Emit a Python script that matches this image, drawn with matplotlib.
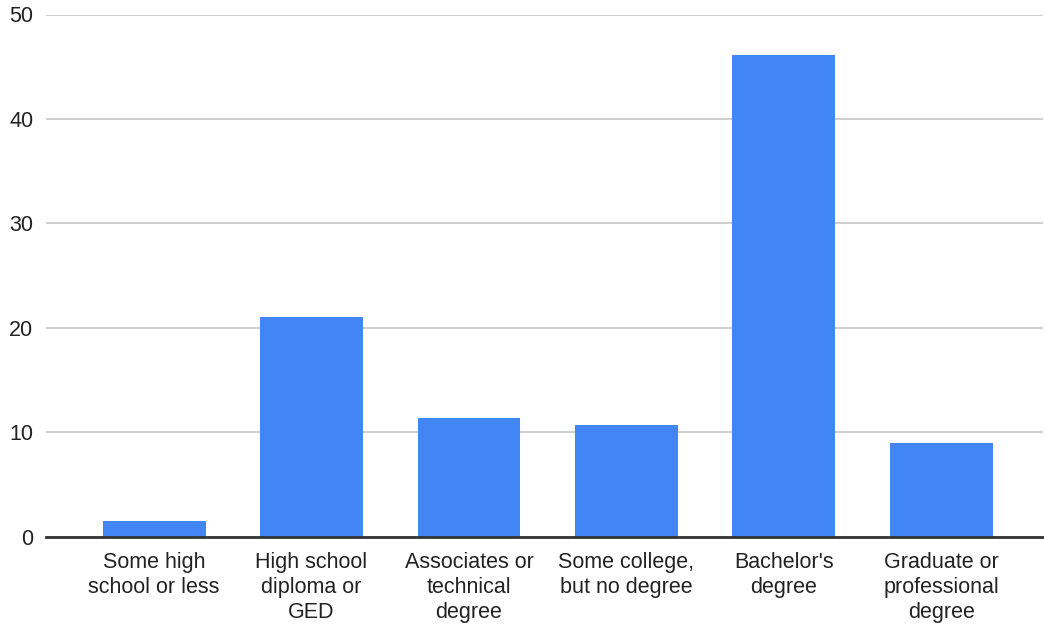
import matplotlib
matplotlib.use("Agg")
import matplotlib.pyplot as plt

categories = ["Some high\nschool or less", "High school\ndiploma or\nGED", "Associates or\ntechnical\ndegree",
              "Some college,\nbut no degree", "Bachelor's\ndegree", "Graduate or\nprofessional\ndegree"]
values = [1.5, 21.0, 11.4, 10.7, 46.1, 9.0]
yticks = [0, 10, 20, 30, 40, 50]

plt.rcParams['font.family'] = ['Liberation Sans', 'DejaVu Sans']

fig = plt.figure(figsize=(10.44, 6.28), dpi=100)
ax = fig.add_axes([45.7/1044, 1 - 536.7/628, (1043 - 45.7)/1044, (536.7 - 14.5)/628])

x = list(range(len(categories)))
ax.bar(x, values, width=0.654, color="#4285f4", zorder=3)

ax.set_ylim(0, 50)
ax.set_xlim(-0.688, 5.645)
ax.set_yticks(yticks)
ax.set_yticklabels([str(t) for t in yticks], fontsize=15.5, color="#222222")
ax.set_xticks(x)
ax.set_xticklabels(categories, fontsize=15.5, color="#222222", linespacing=1.25)
ax.tick_params(axis='both', length=0)
ax.tick_params(axis='y', pad=9)
ax.tick_params(axis='x', pad=11)

ax.grid(axis='y', color="#cccccc", linewidth=1.3, zorder=0)
for s in ["top", "right", "left"]:
    ax.spines[s].set_visible(False)
ax.spines["bottom"].set_color("#333333")
ax.spines["bottom"].set_linewidth(2)
ax.spines["bottom"].set_zorder(4)

fig.savefig("out.png", dpi=100)
